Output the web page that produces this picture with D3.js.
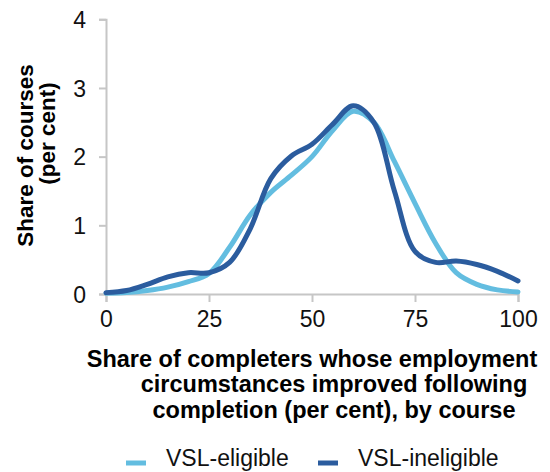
<!DOCTYPE html>
<html>
<head>
<meta charset="utf-8">
<script src="https://cdn.jsdelivr.net/npm/d3@7"></script>
<style>
  body { margin: 0; background: #fff; }
  svg { display: block; font-family: "Liberation Sans", Arial, sans-serif; }
</style>
</head>
<body>
<svg id="chart" width="550" height="472"></svg>
<script>
// ---- data ----
const xValues = [0, 5, 10, 15, 20, 25, 30, 35, 40, 45, 50, 55, 60, 65, 70, 75, 80, 85, 90, 95, 100];
const eligible = [0.01, 0.02, 0.05, 0.10, 0.18, 0.30, 0.68, 1.15, 1.48, 1.73, 2.00, 2.38, 2.66, 2.50, 1.93, 1.32, 0.74, 0.31, 0.14, 0.06, 0.03];
const ineligible = [0.02, 0.05, 0.14, 0.25, 0.31, 0.31, 0.46, 0.95, 1.68, 2.01, 2.18, 2.47, 2.74, 2.50, 1.50, 0.62, 0.46, 0.48, 0.43, 0.33, 0.19];
const xTicks = [0, 25, 50, 75, 100];
const yTicks = [0, 1, 2, 3, 4];
const seriesNames = ["VSL-eligible", "VSL-ineligible"];
const seriesColors = ["#63BDE0", "#2B5C9E"];
const xTitleLines = ["Share of completers whose employment", "circumstances improved following", "completion (per cent), by course"];
const yTitleLines = ["Share of courses", "(per cent)"];

// ---- layout ----
const svg = d3.select("#chart");
const x = d3.scaleLinear().domain([0, 100]).range([106, 518]);
const y = d3.scaleLinear().domain([0, 4]).range([294, 19.3]);
const axisColor = "#C6C6C6";

// axes
const gx = svg.append("g").attr("transform", `translate(0,${y(0)})`)
  .call(d3.axisBottom(x).tickValues(xTicks).tickSize(8).tickPadding(9).tickFormat(d3.format("d")));
const gy = svg.append("g").attr("transform", `translate(${x(0)},0)`)
  .call(d3.axisLeft(y).tickValues(yTicks).tickSize(7).tickPadding(13).tickFormat(d3.format("d")));
[gx, gy].forEach(g => {
  g.select(".domain").attr("stroke", axisColor).attr("stroke-width", 2);
  g.selectAll(".tick line").attr("stroke", axisColor).attr("stroke-width", 2);
  g.selectAll(".tick text").attr("fill", "#111").style("font-size", "23px")
    .style("font-family", '"Liberation Sans", Arial, sans-serif');
});
gx.selectAll(".tick text").attr("dy", "0.68em");
gy.selectAll(".tick text").attr("dy", "0.36em");

// lines
const line = d3.line().x(d => x(d[0])).y(d => y(d[1])).curve(d3.curveCatmullRom.alpha(0.5));
const data = [eligible, ineligible].map(vals => xValues.map((v, i) => [v, vals[i]]));
svg.append("g").selectAll("path").data(data).join("path")
  .attr("d", line)
  .attr("fill", "none")
  .attr("stroke", (d, i) => seriesColors[i])
  .attr("stroke-width", 5)
  .attr("stroke-linejoin", "round")
  .attr("stroke-linecap", "round");

// x title
const xTitlePos = [[312, 367], [334, 392], [334, 418]];
svg.append("g").selectAll("text").data(xTitleLines).join("text")
  .attr("x", (d, i) => xTitlePos[i][0]).attr("y", (d, i) => xTitlePos[i][1])
  .attr("text-anchor", "middle").style("font-size", "23.5px").style("font-weight", "bold")
  .attr("fill", "#000").text(d => d);

// y title
const yTitlePos = [[33, 155.5], [55, 133.5]];
svg.append("g").selectAll("text").data(yTitleLines).join("text")
  .attr("transform", (d, i) => `translate(${yTitlePos[i][0]},${yTitlePos[i][1]}) rotate(-90)`)
  .attr("text-anchor", "middle").style("font-size", "22.5px").style("font-weight", "bold")
  .attr("fill", "#000").text(d => d);

// legend
const legendPos = [126, 318];
const lg = svg.append("g").selectAll("g").data(seriesNames).join("g")
  .attr("transform", (d, i) => `translate(${legendPos[i]},463)`);
lg.append("line").attr("x1", 0).attr("x2", 20).attr("y1", 0).attr("y2", 0)
  .attr("stroke", (d, i) => seriesColors[i]).attr("stroke-width", 5);
lg.append("text").attr("x", 40).attr("y", 3).style("font-size", "23px")
  .attr("fill", "#111").text(d => d);
</script>
</body>
</html>
